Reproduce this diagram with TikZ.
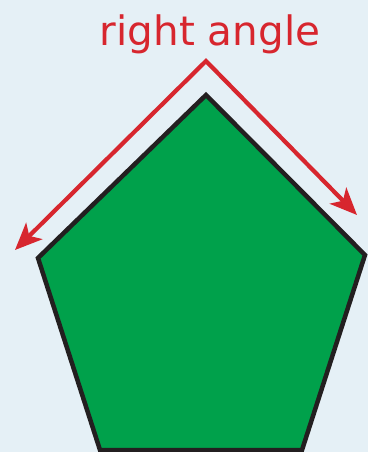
\documentclass[tikz,border=0pt]{standalone}
\usepackage{fontspec}
\setmainfont{DejaVu Sans}
\usetikzlibrary{arrows.meta}
\definecolor{fundo}{HTML}{E5F0F6}
\definecolor{verde}{HTML}{00A14B}
\definecolor{vermelho}{HTML}{D7262E}
\definecolor{contorno}{HTML}{231F20}
\begin{document}
\begin{tikzpicture}[x=1pt, y=-1pt, >={Stealth[length=27pt, width=23pt, inset=7pt]}]

% Fundo
\fill[fundo] (0,0) rectangle (368,452);
\useasboundingbox (0,0) rectangle (368,452);
\clip (0,0) rectangle (368,452);

% Pentagono
\filldraw[
    fill=verde,
    draw=contorno,
    line width=4.5pt,
    line join=miter
] (206,95) -- (365,255) -- (302,450) -- (100,450) -- (38,258) -- cycle;

% Setas do angulo recto
\coordinate (vertice) at (206,61);
\coordinate (pontaE) at (15,250);
\coordinate (pontaD) at (357,215);
\draw[<->, vermelho, line width=4.2pt, line join=miter] (pontaE) -- (vertice) -- (pontaD);

% Texto
\node[text=vermelho, font=\fontsize{40.5}{40.5}\selectfont, anchor=base] (rotulo) at (210,46) {right angle};

\end{tikzpicture}
\end{document}
